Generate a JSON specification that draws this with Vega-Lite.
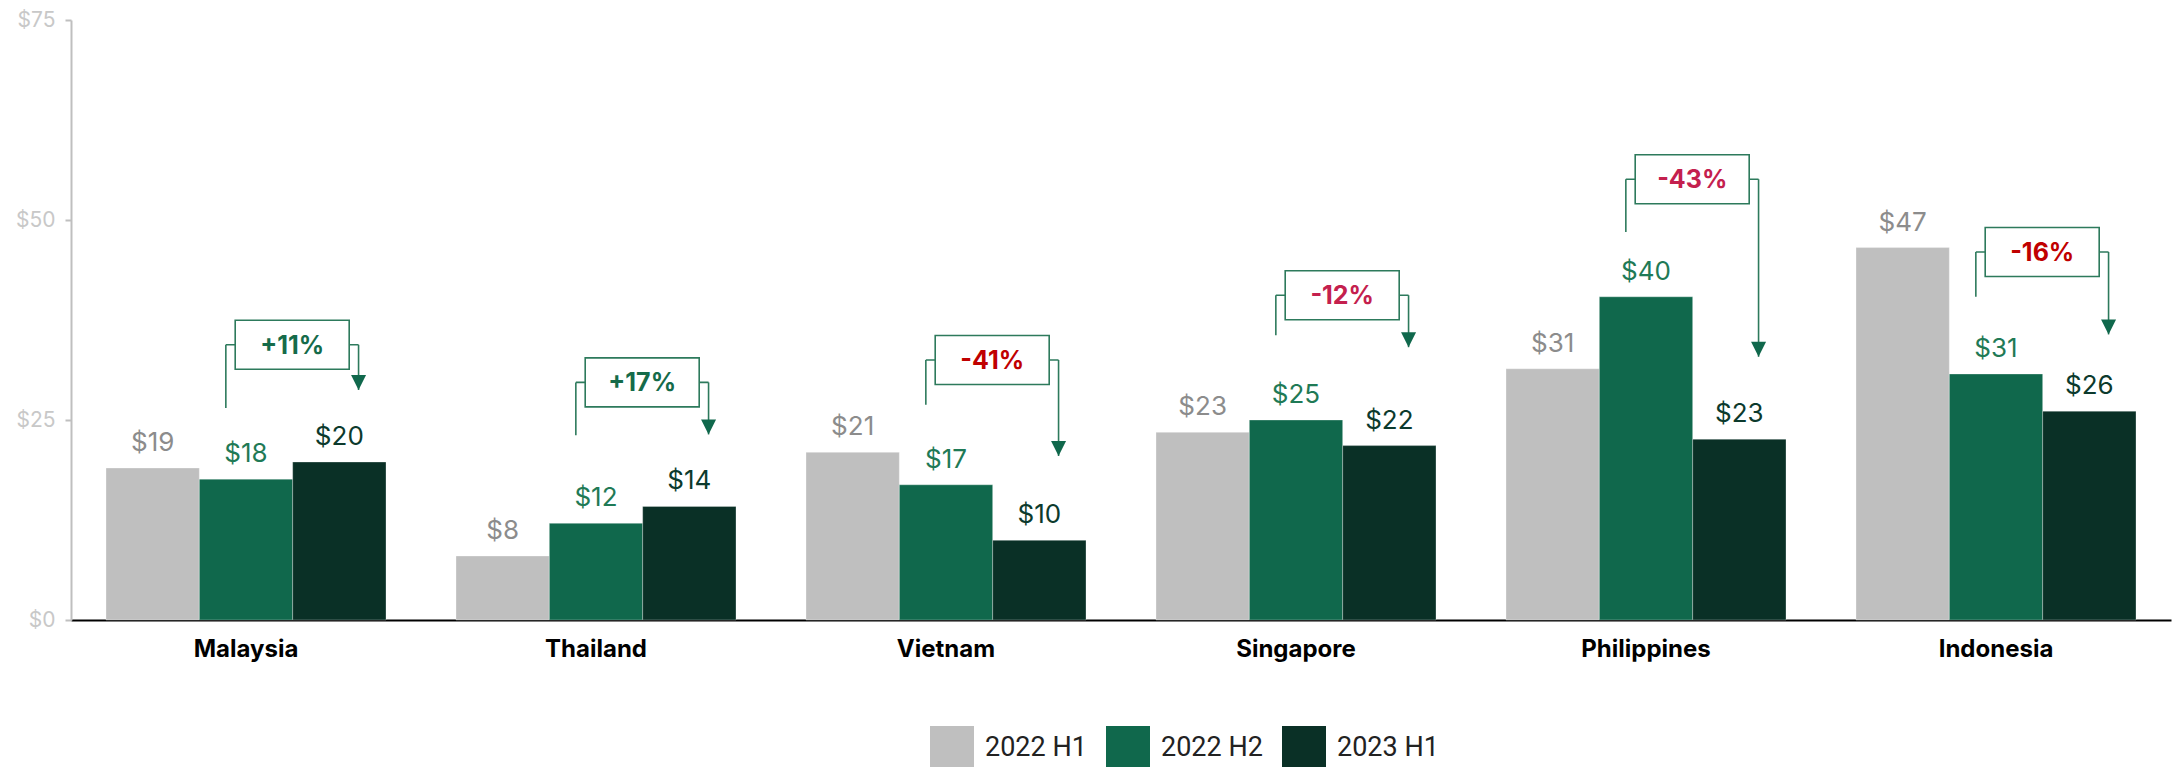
{
  "$schema": "https://vega.github.io/schema/vega-lite/v6.json",
  "width": 2100,
  "height": 600,
  "autosize": {"type": "none"},
  "padding": {"left": 71, "top": 20, "right": 2, "bottom": 147},
  "background": "white",
  "config": {"view": {"stroke": null}, "font": "Inter", "axis": {"grid": false}},
  "datasets": {
    "bars": [
      {"country": "Malaysia", "period": "2022 H1", "value": 19.0},
      {"country": "Malaysia", "period": "2022 H2", "value": 17.6},
      {"country": "Malaysia", "period": "2023 H1", "value": 19.75},
      {"country": "Thailand", "period": "2022 H1", "value": 8.0},
      {"country": "Thailand", "period": "2022 H2", "value": 12.08},
      {"country": "Thailand", "period": "2023 H1", "value": 14.2},
      {"country": "Vietnam", "period": "2022 H1", "value": 20.96},
      {"country": "Vietnam", "period": "2022 H2", "value": 16.9},
      {"country": "Vietnam", "period": "2023 H1", "value": 9.96},
      {"country": "Singapore", "period": "2022 H1", "value": 23.46},
      {"country": "Singapore", "period": "2022 H2", "value": 25.0},
      {"country": "Singapore", "period": "2023 H1", "value": 21.8},
      {"country": "Philippines", "period": "2022 H1", "value": 31.4},
      {"country": "Philippines", "period": "2022 H2", "value": 40.4},
      {"country": "Philippines", "period": "2023 H1", "value": 22.6},
      {"country": "Indonesia", "period": "2022 H1", "value": 46.55},
      {"country": "Indonesia", "period": "2022 H2", "value": 30.75},
      {"country": "Indonesia", "period": "2023 H1", "value": 26.1}
    ],
    "notes": [
      {"country": "Malaysia", "label": "+11%", "tone": "gain", "conn": 34.4, "leftEnd": 26.5, "tip": 28.75},
      {"country": "Thailand", "label": "+17%", "tone": "gain", "conn": 29.7, "leftEnd": 23.1, "tip": 23.2},
      {"country": "Vietnam", "label": "-41%", "tone": "loss", "conn": 32.5, "leftEnd": 26.9, "tip": 20.5},
      {"country": "Singapore", "label": "-12%", "tone": "loss2", "conn": 40.6, "leftEnd": 35.6, "tip": 34.1},
      {"country": "Philippines", "label": "-43%", "tone": "loss2", "conn": 55.1, "leftEnd": 48.5, "tip": 32.9},
      {"country": "Indonesia", "label": "-16%", "tone": "loss", "conn": 46.0, "leftEnd": 40.4, "tip": 35.7}
    ]
  },
  "layer": [
    {
      "data": {"name": "bars"},
      "mark": {"type": "bar", "stroke": "#ffffff", "strokeWidth": 0.6, "strokeOpacity": 0.5},
      "encoding": {
        "x": {
          "field": "country", "type": "nominal",
          "scale": {"type": "band", "domain": ["Malaysia", "Thailand", "Vietnam", "Singapore", "Philippines", "Indonesia"], "paddingInner": 0.2, "paddingOuter": 0.1},
          "axis": {"title": null, "labelFontSize": 24, "labelFontWeight": "bold", "labelColor": "#000000", "labelAngle": 0, "ticks": false, "domainColor": "#000000", "domainWidth": 2, "labelPadding": 17, "labelFont": "Inter"}
        },
        "xOffset": {"field": "period", "type": "nominal", "scale": {"domain": ["2022 H1", "2022 H2", "2023 H1"], "paddingInner": 0, "paddingOuter": 0}},
        "y": {
          "field": "value", "type": "quantitative",
          "scale": {"domain": [0, 75], "nice": false},
          "axis": {"title": null, "values": [0, 25, 50, 75], "format": "$.0f", "labelColor": "#c8c8c8", "labelFontSize": 21, "domainColor": "#bfbfbf", "domainWidth": 2, "tickColor": "#bfbfbf", "tickSize": 6, "tickWidth": 2, "labelPadding": 10, "grid": false}
        },
        "color": {
          "field": "period", "type": "nominal",
          "scale": {"domain": ["2022 H1", "2022 H2", "2023 H1"], "range": ["#bfbfbf", "#10684c", "#0a3026"]},
          "legend": {"title": null, "orient": "none", "legendX": 859, "legendY": 706, "direction": "horizontal", "symbolType": "square", "symbolSize": 1936, "symbolStrokeWidth": 0, "symbolOpacity": 1, "labelFontSize": 27, "labelFont": "Roboto", "labelColor": "#222222", "columnPadding": 19, "labelOffset": 11}
        }
      }
    },
    {
      "data": {"name": "bars"},
      "mark": {"type": "text", "dy": -17, "baseline": "alphabetic", "fontSize": 26, "font": "Inter"},
      "encoding": {
        "x": {"field": "country", "type": "nominal", "title": null},
        "xOffset": {"field": "period", "type": "nominal"},
        "y": {"field": "value", "type": "quantitative", "title": null},
        "text": {"field": "value", "type": "quantitative", "format": "$.0f"},
        "color": {"field": "period", "type": "nominal", "scale": {"domain": ["2022 H1", "2022 H2", "2023 H1"], "range": ["#8c8c8c", "#1f7a56", "#0c3a2d"]}, "legend": null}
      }
    },
    {
      "data": {"name": "notes"},
      "mark": {"type": "rule", "color": "#2d7a5c", "strokeWidth": 1.6},
      "encoding": {
        "x": {"field": "country", "type": "nominal", "bandPosition": 0.428, "title": null},
        "y": {"field": "leftEnd", "type": "quantitative", "title": null},
        "y2": {"field": "conn"}
      }
    },
    {
      "data": {"name": "notes"},
      "mark": {"type": "rule", "color": "#2d7a5c", "strokeWidth": 1.6},
      "encoding": {
        "x": {"field": "country", "type": "nominal", "bandPosition": 0.902, "title": null},
        "y": {"field": "conn", "type": "quantitative", "title": null},
        "y2": {"field": "tip"}
      }
    },
    {
      "data": {"name": "notes"},
      "mark": {"type": "point", "shape": "M-1,0L1,0", "size": 17609, "filled": false, "color": "#2d7a5c", "strokeWidth": 1.6, "opacity": 1},
      "encoding": {
        "x": {"field": "country", "type": "nominal", "bandPosition": 0.665, "title": null},
        "y": {"field": "conn", "type": "quantitative", "title": null}
      }
    },
    {
      "data": {"name": "notes"},
      "mark": {"type": "point", "shape": "M-1,-0.43L1,-0.43L1,0.43L-1,0.43Z", "size": 12996, "filled": true, "fill": "#ffffff", "stroke": "#2d7a5c", "strokeWidth": 1.6, "opacity": 1, "fillOpacity": 1, "strokeOpacity": 1},
      "encoding": {
        "x": {"field": "country", "type": "nominal", "bandPosition": 0.665, "title": null},
        "y": {"field": "conn", "type": "quantitative", "title": null}
      }
    },
    {
      "data": {"name": "notes"},
      "mark": {"type": "text", "fontSize": 25, "fontWeight": "bold", "font": "Inter", "baseline": "middle", "align": "center", "dy": 1},
      "encoding": {
        "x": {"field": "country", "type": "nominal", "bandPosition": 0.665, "title": null},
        "y": {"field": "conn", "type": "quantitative", "title": null},
        "text": {"field": "label"},
        "color": {"field": "tone", "type": "nominal", "scale": {"domain": ["gain", "loss", "loss2"], "range": ["#156b4a", "#c00000", "#c4204e"]}, "legend": null}
      }
    },
    {
      "data": {"name": "notes"},
      "mark": {"type": "point", "shape": "M-1,-2L1,-2L0,0Z", "size": 225, "filled": true, "color": "#10684c", "opacity": 1, "strokeWidth": 0},
      "encoding": {
        "x": {"field": "country", "type": "nominal", "bandPosition": 0.902, "title": null},
        "y": {"field": "tip", "type": "quantitative", "title": null}
      }
    }
  ],
  "resolve": {"scale": {"color": "independent"}}
}
